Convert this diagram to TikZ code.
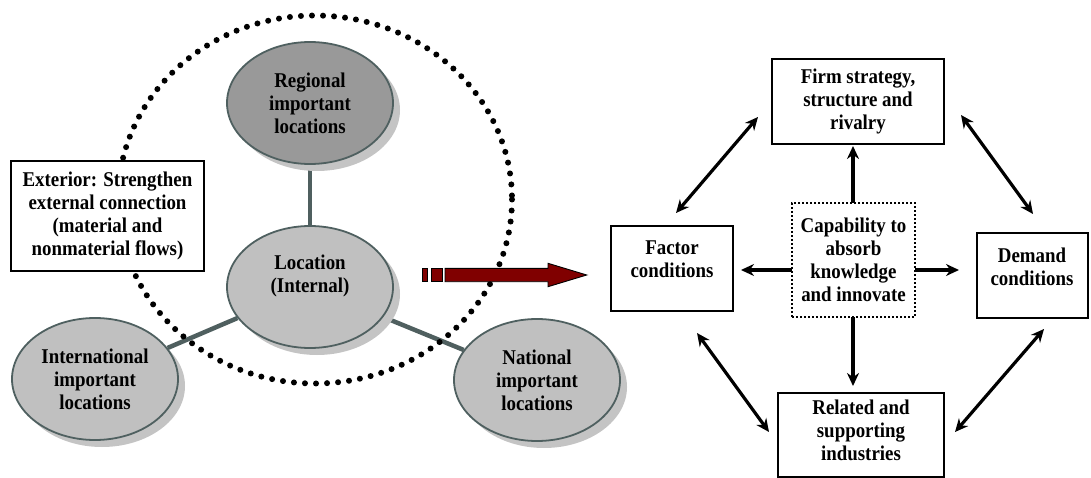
\documentclass[tikz,border=0pt]{standalone}
\usepackage{fontspec}
\setmainfont{Liberation Serif}[FakeStretch=0.9]
\usetikzlibrary{shapes.geometric,arrows.meta,shadows,backgrounds}
\definecolor{locfill}{HTML}{C0C0C0}
\definecolor{regfill}{HTML}{999999}
\definecolor{edgegray}{HTML}{4F6060}
\definecolor{linkgray}{HTML}{4F5F5F}
\definecolor{shadowgray}{HTML}{C4C4C4}
\definecolor{arrowred}{HTML}{800000}
\begin{document}
\begin{tikzpicture}[x=1pt,y=-1pt,
  every node/.style={font=\bfseries\fontsize{21}{23}\selectfont, align=center, inner sep=0pt},
  loc/.style={ellipse, draw=edgegray, line width=1.8pt, fill=locfill,
    minimum width=166pt, minimum height=122pt,
    drop shadow={shadow xshift=7pt, shadow yshift=-7pt, fill=shadowgray, opacity=1}},
  box/.style={draw=black, line width=2.2pt, fill=white},
  dotbox/.style={draw=black, line width=2.2pt, dash pattern=on 2pt off 2pt, fill=white},
  link/.style={draw=linkgray, line width=4.5pt},
  onearrow/.style={line width=3.2pt, -{Stealth[length=13pt,width=12pt]}},
  twoarrow/.style={line width=3.2pt, {Stealth[length=13pt,width=12pt]}-{Stealth[length=13pt,width=12pt]}},
  bigarrow/.style={fill=arrowred, draw=black, line width=0.9pt}
]
\useasboundingbox (0,0) rectangle (1091,478);

% ---------- left part ----------
\node[loc, fill=regfill] (reg) at (310,103) {Regional\\important\\locations};
\node[loc] (loc) at (310,287) {};
\node (loctext) at (310,276) {Location\\(Internal)};
\node[loc] (intl) at (95,379) {International\\important\\locations};
\node[loc] (nat) at (537,380) {National\\important\\locations};

\begin{scope}[on background layer]
  \draw[link] (loc) -- (reg);
  \draw[link] (loc) -- (intl);
  \draw[link] (loc) -- (nat);
  \draw[line width=6pt, line cap=round, dash pattern=on 0pt off 11.05pt]
    (315,199.5) ellipse [x radius=197, y radius=184];
\end{scope}

\node[box, minimum width=193pt, minimum height=110pt] (ext) at (107.5,216)
  {Exterior: Strengthen\\external connection\\(material and\\nonmaterial flows)};

% red arrow
\draw[bigarrow] (422,268.3) rectangle (427,281.7);
\draw[bigarrow] (431,268.3) rectangle (442,281.7);
\draw[bigarrow] (445,268.3) -- (548,268.3) -- (548,263.3) -- (586.7,275)
  -- (548,286.7) -- (548,281.7) -- (445,281.7) -- cycle;

% ---------- right part ----------
\node[box, minimum width=172pt, minimum height=85pt] (firm) at (858,101.5)
  {Firm strategy,\\structure and\\rivalry};
\node[box, minimum width=122pt, minimum height=85pt] (factor) at (672,268.5) {};
\node (factortext) at (672,259) {Factor\\conditions};
\node[dotbox, minimum width=123pt, minimum height=114pt] (cap) at (853.5,260)
  {Capability to\\absorb\\knowledge\\and innovate};
\node[box, minimum width=111pt, minimum height=85pt] (demand) at (1032.5,275.5) {};
\node (demandtext) at (1032,267) {Demand\\conditions};
\node[box, minimum width=166pt, minimum height=84pt] (rel) at (861,435) {};
\node (reltext) at (861,430) {Related and\\supporting\\industries};

% arrows from capability
\coordinate (capN) at (853,203);
\coordinate (capS) at (853,317);
\coordinate (capW) at (792,270);
\coordinate (capE) at (915,270);
\coordinate (tN) at (853,146);
\coordinate (tS) at (853,386);
\coordinate (tW) at (741,270);
\coordinate (tE) at (959,270);
\draw[onearrow] (capN) -- (tN);
\draw[onearrow] (capS) -- (tS);
\draw[onearrow] (capW) -- (tW);
\draw[onearrow] (capE) -- (tE);

% diagonal double arrows
\coordinate (fa1) at (676,213);
\coordinate (fa2) at (758,117);
\coordinate (fd1) at (961,115);
\coordinate (fd2) at (1033,214);
\coordinate (fr1) at (697,333);
\coordinate (fr2) at (769,432);
\coordinate (dr1) at (1044,329);
\coordinate (dr2) at (955,432);
\draw[twoarrow] (fa1) -- (fa2);
\draw[twoarrow] (fd1) -- (fd2);
\draw[twoarrow] (fr1) -- (fr2);
\draw[twoarrow] (dr1) -- (dr2);
\end{tikzpicture}
\end{document}
